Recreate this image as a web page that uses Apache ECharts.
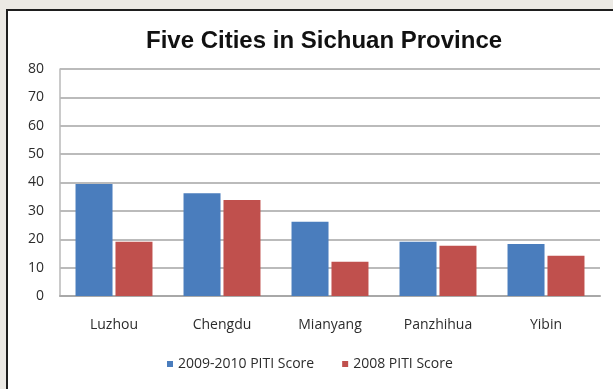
<!DOCTYPE html>
<html>
<head>
<meta charset="utf-8">
<script src="https://cdn.jsdelivr.net/npm/echarts@6/dist/echarts.min.js"></script>
<style>
  html, body { margin: 0; padding: 0; background: #ebe9e4; }
  #chart { width: 613px; height: 389px; }
</style>
</head>
<body>
<div id="chart"></div>
<script>
// Cities and PITI scores
const cities = ['Luzhou', 'Chengdu', 'Mianyang', 'Panzhihua', 'Yibin'];
const score2009_2010 = [39.5, 36.2, 26.2, 19.1, 18.3];
const score2008 = [19.1, 33.8, 12.1, 17.7, 14.2];
const seriesNames = ['2009-2010 PITI Score', '2008 PITI Score'];
const yTicks = { min: 0, max: 80, interval: 10 };

const labelFont = 'Open Sans';
const textColor = '#2c2c2c';

const chart = echarts.init(document.getElementById('chart'), null, { renderer: 'canvas' });

chart.setOption({
  backgroundColor: '#ebe9e4',
  animation: false,
  graphic: [{
    type: 'rect',
    z: -10,
    shape: { x: 7, y: 10, width: 640, height: 420 },
    style: { fill: '#ffffff', stroke: '#1e1e1e', lineWidth: 2 }
  }],
  title: {
    text: 'Five Cities in Sichuan Province',
    left: 141,
    top: 24,
    textStyle: { fontFamily: 'Liberation Sans', fontWeight: 'bold', fontSize: 24, color: '#111' }
  },
  legend: {
    left: 162,
    top: 352,
    icon: 'rect',
    itemWidth: 6,
    itemHeight: 6,
    itemGap: 28,
    textStyle: { fontFamily: labelFont, fontSize: 14, color: textColor },
    data: seriesNames
  },
  grid: { left: 60, right: 13, top: 69, bottom: 93 },
  xAxis: {
    type: 'category',
    data: cities,
    axisLine: { lineStyle: { color: '#a8a8a8', width: 2 } },
    axisTick: { show: false },
    axisLabel: { margin: 22, fontFamily: labelFont, fontSize: 14, color: textColor }
  },
  yAxis: {
    type: 'value',
    min: yTicks.min,
    max: yTicks.max,
    interval: yTicks.interval,
    axisLine: { show: true, lineStyle: { color: '#b8b8b8', width: 1.5 } },
    axisTick: { show: false },
    splitLine: { lineStyle: { color: '#a4a4a4', width: 1.5 } },
    axisLabel: { margin: 16, fontFamily: labelFont, fontSize: 14, color: textColor }
  },
  series: [
    {
      name: seriesNames[0],
      type: 'bar',
      data: score2009_2010,
      barWidth: 37,
      barGap: '8%',
      itemStyle: { color: '#4a7dbd' }
    },
    {
      name: seriesNames[1],
      type: 'bar',
      data: score2008,
      barWidth: 37,
      barGap: '8%',
      itemStyle: { color: '#c0504d' }
    }
  ]
});
</script>
</body>
</html>
